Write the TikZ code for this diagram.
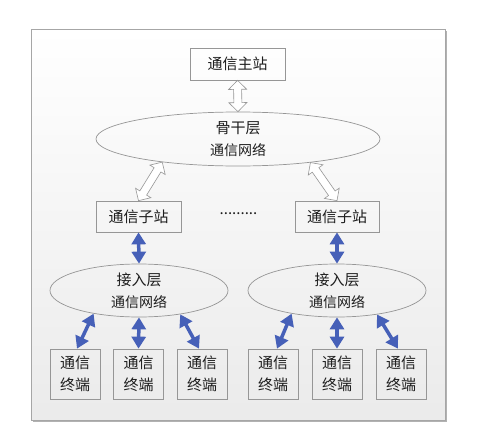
\documentclass[tikz,border=0pt]{standalone}
\usepackage{fontspec}
\newfontfamily\cjk{Noto Sans CJK SC}
\usetikzlibrary{shapes.geometric,arrows.meta,calc}
\definecolor{linkblue}{RGB}{70,96,184}
\definecolor{boxline}{RGB}{150,150,150}
\definecolor{txt}{RGB}{30,30,30}
\newcommand\subtxt{\fontsize{14}{21}\selectfont}
\tikzset{
  base/.style={font=\cjk\fontsize{15}{22}\selectfont, text=txt, inner sep=0pt, align=center},
  stationbox/.style={base, draw=boxline, line width=0.7pt, rectangle},
  netell/.style={base, draw=boxline, line width=0.7pt, ellipse},
  hollow/.style={draw=boxline, fill=white, line width=0.6pt, line join=miter},
  bluelink/.style={draw=linkblue, line width=3.5pt,
    {Triangle[width=14pt,length=12pt]}-{Triangle[width=14pt,length=12pt]}}
}
\newcommand\hollowarr[2]{%
  \filldraw[hollow] (#1)
    -- ($(#1)!9pt!(#2)!9pt!90:(#2)$)
    -- ($(#1)!9pt!(#2)!4pt!90:(#2)$)
    -- ($(#2)!9pt!(#1)!4pt!-90:(#1)$)
    -- ($(#2)!9pt!(#1)!9pt!-90:(#1)$)
    -- (#2)
    -- ($(#2)!9pt!(#1)!9pt!90:(#1)$)
    -- ($(#2)!9pt!(#1)!4pt!90:(#1)$)
    -- ($(#1)!9pt!(#2)!4pt!-90:(#2)$)
    -- ($(#1)!9pt!(#2)!9pt!-90:(#2)$)
    -- cycle;%
}
\begin{document}
\begin{tikzpicture}[x=1pt,y=-1pt]
\useasboundingbox (0,0) rectangle (499,434);
% frame with shadow
\fill[gray!60] (33,31) rectangle (447,422);
\shade[top color=white, bottom color=black!8, draw=black!35, line width=0.7pt] (31,29) rectangle (445,420);

\node[stationbox, minimum width=95pt, minimum height=32pt] (main) at (237.5,64) {通信主站};
\node[netell, minimum width=284pt, minimum height=54pt] (bb) at (238,139) {骨干层\\{\subtxt 通信网络}};

\node[stationbox, minimum width=85pt, minimum height=31pt] (s1) at (138.5,216.5) {通信子站};
\node[stationbox, minimum width=84pt, minimum height=31pt] (s2) at (337,216.5) {通信子站};
\node[base] (dots) at (238.5,214) {.........};

\node[netell, minimum width=178pt, minimum height=53pt] (a1) at (139,290.5) {接入层\\{\subtxt 通信网络}};
\node[netell, minimum width=178pt, minimum height=53pt] (a2) at (337,290.5) {接入层\\{\subtxt 通信网络}};

\foreach \n/\x in {t1/75,t2/138.5,t3/202,t4/273,t5/337,t6/401}
  \node[stationbox, minimum width=50pt, minimum height=50pt] (\n) at (\x,374) {通信\\终端};

\coordinate (bbL) at (bb.197.5);
\coordinate (bbR) at (bb.342);
\hollowarr{main.south}{bb.north}
\hollowarr{bbL}{s1.north}
\hollowarr{bbR}{s2.north}

\draw[bluelink] (s1.south) -- (a1.north);
\draw[bluelink] (s2.south) -- (a2.north);

\draw[bluelink] (a1.207) -- ([xshift=2pt]t1.north);
\draw[bluelink] (a1.south) -- (t2.north);
\draw[bluelink] (a1.330) -- ([xshift=-3pt]t3.north);
\draw[bluelink] (a2.207.5) -- ([xshift=4pt]t4.north);
\draw[bluelink] (a2.south) -- (t5.north);
\draw[bluelink] (a2.329) -- ([xshift=-3pt]t6.north);
\end{tikzpicture}
\end{document}
